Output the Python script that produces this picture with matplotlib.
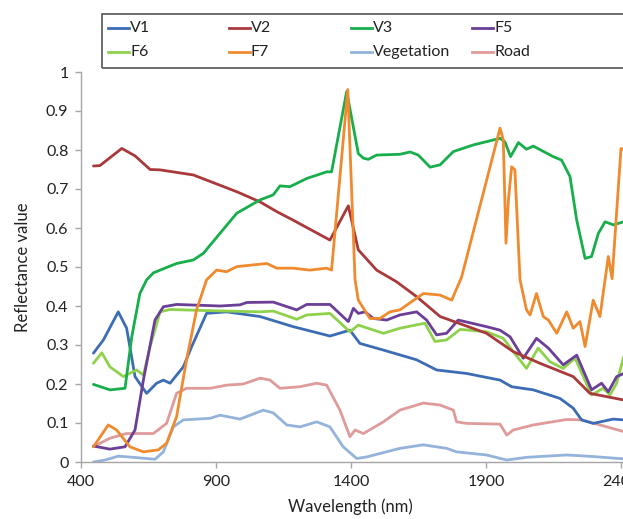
import matplotlib
matplotlib.use("Agg")
import matplotlib.pyplot as plt
from matplotlib.lines import Line2D
from matplotlib.patches import Rectangle

plt.rcParams['font.family'] = ['Lato', 'DejaVu Sans']

# ---------------- data ----------------
v1_w = [446, 483, 538, 569, 600, 643, 680, 705, 730, 779, 810, 865, 939, 1063, 1186, 1322, 1396, 1433,
        1520, 1643, 1717, 1828, 1952, 1995, 2075, 2174, 2223, 2254, 2297, 2371, 2410]
v1_v = [.279, .313, .385, .343, .219, .176, .202, .210, .202, .244, .296, .381, .385, .373, .347, .323, .338, .304,
        .287, .262, .236, .227, .210, .193, .185, .163, .138, .108, .099, .110, .108]

v2_w = [446, 470, 551, 600, 656, 693, 816, 977, 1063, 1125, 1186, 1322, 1390, 1427, 1495, 1569, 1643, 1730,
        1902, 2001, 2100, 2223, 2285, 2410]
v2_v = [.759, .760, .804, .785, .750, .749, .736, .693, .667, .642, .620, .569, .657, .544, .492, .462, .424, .373,
        .330, .283, .253, .219, .176, .159]

v3_w = [446, 507, 563, 588, 618, 643, 668, 693, 754, 816, 853, 977, 1063, 1112, 1137, 1174, 1236, 1310, 1328,
        1384, 1427, 1446, 1464, 1495, 1581, 1619, 1649, 1693, 1730, 1779, 1853, 1952, 1970, 1991, 2020, 2050,
        2075, 2149, 2180, 2211, 2236, 2267, 2291, 2316, 2341, 2372, 2410]
v3_v = [.199, .185, .189, .321, .432, .467, .485, .492, .509, .518, .535, .638, .672, .685, .708, .706, .727, .744, .744,
        .950, .791, .779, .776, .787, .789, .795, .787, .756, .762, .796, .813, .830, .821, .783, .819, .802,
        .810, .783, .774, .732, .620, .522, .527, .586, .616, .608, .616]

f5_w = [446, 507, 563, 600, 631, 674, 705, 754, 915, 989, 1014, 1112, 1199, 1236, 1322, 1390, 1409, 1427, 1452,
        1483, 1532, 1581, 1643, 1680, 1717, 1754, 1797, 1902, 1952, 1989, 2038, 2087, 2131, 2186, 2236, 2291,
        2328, 2353, 2384, 2410]
f5_v = [.041, .033, .039, .082, .210, .364, .398, .404, .400, .403, .409, .410, .390, .404, .404, .360, .394, .381, .385,
        .368, .364, .377, .385, .364, .326, .330, .364, .347, .338, .321, .266, .317, .292, .249, .274, .185,
        .202, .180, .219, .227]

f6_w = [446, 477, 507, 557, 606, 631, 656, 693, 730, 878, 1063, 1112, 1199, 1236, 1322, 1396, 1427, 1520, 1581,
        1674, 1711, 1754, 1804, 1902, 1964, 2001, 2050, 2093, 2137, 2186, 2230, 2291, 2334, 2359, 2384, 2410]
f6_v = [.253, .280, .244, .219, .236, .223, .296, .385, .391, .388, .385, .387, .366, .377, .381, .334, .351, .330, .343,
        .356, .309, .313, .340, .334, .317, .283, .240, .292, .257, .240, .266, .172, .189, .172, .202, .270]

f7_w = [446, 501, 532, 581, 631, 686, 717, 754, 791, 828, 865, 902, 939, 977, 1088, 1125, 1186, 1248, 1310, 1328,
        1388, 1415, 1427, 1470, 1507, 1544, 1581, 1668, 1730, 1773, 1810, 1952, 1964, 1974, 1983, 1995, 2007,
        2026, 2050, 2063, 2087, 2112, 2131, 2162, 2199, 2223, 2248, 2267, 2297, 2322, 2353, 2367, 2400, 2410]
f7_v = [.039, .095, .082, .039, .026, .031, .048, .116, .262, .390, .467, .492, .488, .501, .509, .497, .497, .492, .497, .492,
        .955, .467, .415, .368, .368, .385, .390, .432, .428, .415, .475, .856, .826, .561, .672, .757, .749,
        .467, .390, .377, .432, .373, .364, .330, .385, .343, .360, .296, .415, .373, .527, .470, .804, .800]

veg_w = [446, 489, 538, 594, 674, 705, 742, 779, 878, 915, 989, 1075, 1112, 1162, 1211, 1273, 1322, 1371, 1421,
         1458, 1581, 1668, 1754, 1791, 1902, 1977, 2050, 2199, 2297, 2410]
veg_v = [.000, .005, .015, .012, .007, .026, .090, .108, .112, .120, .110, .133, .126, .095, .090, .103, .090, .039, .009,
         .013, .035, .044, .035, .026, .018, .005, .012, .018, .014, .008]

road_w = [446, 507, 569, 668, 717, 754, 791, 878, 939, 1001, 1063, 1100, 1137, 1211, 1273, 1310, 1359, 1396, 1415,
          1446, 1520, 1581, 1668, 1730, 1779, 1791, 1828, 1952, 1977, 2001, 2075, 2199, 2254, 2322, 2410]
road_v = [.039, .061, .073, .073, .099, .176, .189, .189, .197, .200, .215, .210, .189, .193, .202, .197, .133, .065, .082,
          .073, .103, .133, .151, .146, .133, .103, .099, .097, .069, .082, .095, .109, .108, .095, .078]

series_names = ["V1", "V2", "V3", "F5", "F6", "F7", "Vegetation", "Road"]
series_w = [v1_w, v2_w, v3_w, f5_w, f6_w, f7_w, veg_w, road_w]
series_v = [v1_v, v2_v, v3_v, f5_v, f6_v, f7_v, veg_v, road_v]
series_colors = ["#3C6DB4", "#A9393A", "#17AE4B", "#6B3F98", "#8ED24C", "#F08A2E", "#94B3DA", "#DF9A9A"]
draw_order = [6, 7, 0, 4, 3, 1, 2, 5]

x_ticks = [400, 900, 1400, 1900, 2400]
y_ticks = [0, 0.1, 0.2, 0.3, 0.4, 0.5, 0.6, 0.7, 0.8, 0.9, 1]
y_tick_labels = ["0", "0.1", "0.2", "0.3", "0.4", "0.5", "0.6", "0.7", "0.8", "0.9", "1"]

# ---------------- figure ----------------
W, H = 623, 519
fig = plt.figure(figsize=(W / 100, H / 100), dpi=100)
ax_left, ax_right, ax_top, ax_bot = 81, 648, 72, 462
ax = fig.add_axes([ax_left / W, 1 - ax_bot / H, (ax_right - ax_left) / W, (ax_bot - ax_top) / H])

for i in draw_order:
    ax.plot(series_w[i], series_v[i], color=series_colors[i], lw=2.0, solid_joinstyle='round',
            solid_capstyle='round')

ax.set_xlim(400, 2500)
ax.set_ylim(0, 1)
ax.set_xticks(x_ticks)
ax.set_xticklabels([str(t) for t in x_ticks])
ax.set_yticks(y_ticks)
ax.set_yticklabels(y_tick_labels)

for s in ["top", "right"]:
    ax.spines[s].set_visible(False)
for s in ["left", "bottom"]:
    ax.spines[s].set_color("#A6A6A6")
    ax.spines[s].set_linewidth(1.0)
ax.tick_params(axis='both', direction='out', length=4, width=1, color="#A6A6A6",
               labelsize=11.5, labelcolor="#222222", pad=5)

ax.set_ylabel("Reflectance value", fontsize=12, color="#222222")
ax.yaxis.set_label_coords(-(81 - 31) / (ax_right - ax_left), 0.5)
ax.set_xlabel("Wavelength (nm)", fontsize=12, color="#222222", va='center')
ax.xaxis.set_label_coords((350 - ax_left) / (ax_right - ax_left), -(507 - 462) / (ax_bot - ax_top))

# ---------------- legend (manual, equal column widths like the source) ----------------
box_l, box_t, box_b = 102, 14, 68
fig.patches.append(Rectangle((box_l / W, 1 - box_b / H), (700 - box_l) / W, (box_b - box_t) / H,
                             transform=fig.transFigure, fill=False, edgecolor="#555555", lw=1.2))
col_x = [108, 229, 351, 472]
row_y = [28, 52]
for k, name in enumerate(series_names):
    r, c = divmod(k, 4)
    x0 = col_x[c]
    y0 = 1 - row_y[r] / H
    fig.lines.append(Line2D([x0 / W, (x0 + 21) / W], [y0, y0], transform=fig.transFigure,
                            color=series_colors[k], lw=2.0))
    fig.text((x0 + 22) / W, y0, name, fontsize=11.5, color="#222222", va='center', ha='left')

fig.savefig("out.png", dpi=100)
